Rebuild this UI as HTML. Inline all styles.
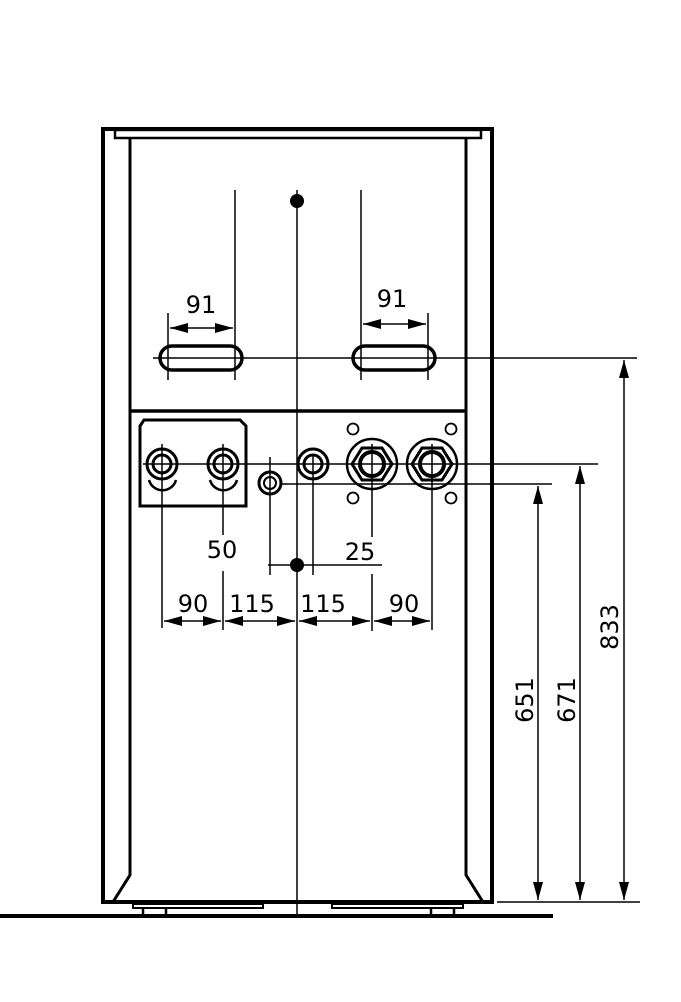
<!DOCTYPE html>
<html><head><style>html,body{margin:0;padding:0;background:#fff}svg{display:block}text{font-family:"DejaVu Sans","Liberation Sans",sans-serif;font-size:24px;fill:#000}</style></head>
<body>
<svg width="681" height="1002" viewBox="0 0 681 1002" xmlns="http://www.w3.org/2000/svg">
<defs>
<marker id="a" viewBox="0 0 18 10" refX="18" refY="5" markerWidth="18" markerHeight="10" markerUnits="userSpaceOnUse" orient="auto-start-reverse"><path d="M0,0L18,5L0,10Z" fill="#000"/></marker>
</defs>
<g fill="none" stroke="#000">
<rect x="103" y="129" width="389" height="773" stroke-width="4"/>
<rect x="115" y="130" width="366" height="8" stroke-width="2.5"/>
<path d="M130,138V875L113,902M466,138V875L483,902" stroke-width="3"/>
<line x1="130" y1="411" x2="466" y2="411" stroke-width="3.5"/>
<path d="M133,904H263V908H133Z M332,904H463V908H332Z" stroke-width="2"/>
<path d="M143,908V916M166,908V916M431,908V916M454,908V916" stroke-width="2.5"/>
<line x1="0" y1="916" x2="553" y2="916" stroke-width="4"/>
<rect x="160" y="346" width="82" height="24" rx="12" stroke-width="3.5"/>
<rect x="353" y="346" width="82" height="24" rx="12" stroke-width="3.5"/>
<g stroke-width="1.5">
<line x1="153" y1="358" x2="637" y2="358"/>
<line x1="235" y1="190" x2="235" y2="380"/>
<line x1="361" y1="190" x2="361" y2="380"/>
<line x1="168" y1="313" x2="168" y2="380"/>
<line x1="428" y1="313" x2="428" y2="380"/>
<line x1="170" y1="328" x2="233" y2="328" marker-start="url(#a)" marker-end="url(#a)"/>
<line x1="363" y1="324" x2="426" y2="324" marker-start="url(#a)" marker-end="url(#a)"/>
<line x1="297" y1="190" x2="297" y2="915"/>
</g>
<path d="M144,420H240L246,426V506H140V426Z" stroke-width="3"/>
<g stroke-width="3">
<circle cx="162" cy="464" r="15"/><circle cx="162" cy="464" r="9"/>
<circle cx="223" cy="464" r="15"/><circle cx="223" cy="464" r="9"/>
<path d="M149,480A14,14 0 0 0 176,480M210,480A14,14 0 0 0 237,480" stroke-width="2.5"/>
<circle cx="270" cy="483" r="11"/><circle cx="270" cy="483" r="6" stroke-width="2"/>
<circle cx="313" cy="464" r="15"/><circle cx="313" cy="464" r="9"/>
</g>
<g stroke-width="2.5">
<circle cx="372" cy="464" r="25"/><circle cx="432" cy="464" r="25"/>
<path d="M352,464L362,448H382L392,464L382,480H362Z M412,464L422,448H442L452,464L442,480H422Z" stroke-width="3"/>
<circle cx="372" cy="464" r="12" stroke-width="4"/><circle cx="432" cy="464" r="12" stroke-width="4"/>
</g>
<g stroke-width="1.8">
<circle cx="353" cy="429" r="5.5"/><circle cx="451" cy="429" r="5.5"/>
<circle cx="353" cy="498" r="5.5"/><circle cx="451" cy="498" r="5.5"/>
</g>
<g stroke-width="1.5">
<line x1="143" y1="464" x2="598" y2="464"/>
<line x1="282" y1="484" x2="552" y2="484"/>
<line x1="162" y1="444" x2="162" y2="628"/>
<line x1="223" y1="444" x2="223" y2="535"/>
<line x1="223" y1="571" x2="223" y2="630"/>
<line x1="270" y1="457" x2="270" y2="575"/>
<line x1="313" y1="455" x2="313" y2="575"/>
<line x1="372" y1="444" x2="372" y2="537"/>
<line x1="372" y1="574" x2="372" y2="631"/>
<line x1="432" y1="444" x2="432" y2="630"/>
<line x1="268" y1="565" x2="382" y2="565"/>
<line x1="164" y1="621" x2="221" y2="621" marker-start="url(#a)" marker-end="url(#a)"/>
<line x1="225" y1="621" x2="295" y2="621" marker-start="url(#a)" marker-end="url(#a)"/>
<line x1="299" y1="621" x2="370" y2="621" marker-start="url(#a)" marker-end="url(#a)"/>
<line x1="374" y1="621" x2="430" y2="621" marker-start="url(#a)" marker-end="url(#a)"/>
<line x1="497" y1="902" x2="640" y2="902"/>
<line x1="538" y1="486" x2="538" y2="900" marker-start="url(#a)" marker-end="url(#a)"/>
<line x1="580" y1="466" x2="580" y2="900" marker-start="url(#a)" marker-end="url(#a)"/>
<line x1="624" y1="360" x2="624" y2="900" marker-start="url(#a)" marker-end="url(#a)"/>
</g>
</g>
<circle cx="297" cy="201" r="7"/>
<circle cx="297" cy="565" r="7"/>
<text x="201" y="313" text-anchor="middle">91</text>
<text x="392" y="307" text-anchor="middle">91</text>
<text x="222" y="558" text-anchor="middle">50</text>
<text x="360" y="560" text-anchor="middle">25</text>
<text x="193" y="612" text-anchor="middle">90</text>
<text x="252" y="612" text-anchor="middle">115</text>
<text x="323" y="612" text-anchor="middle">115</text>
<text x="404" y="612" text-anchor="middle">90</text>
<text transform="translate(533,700) rotate(-90)" text-anchor="middle">651</text>
<text transform="translate(575,700) rotate(-90)" text-anchor="middle">671</text>
<text transform="translate(618,627) rotate(-90)" text-anchor="middle">833</text>
</svg>
</body></html>
